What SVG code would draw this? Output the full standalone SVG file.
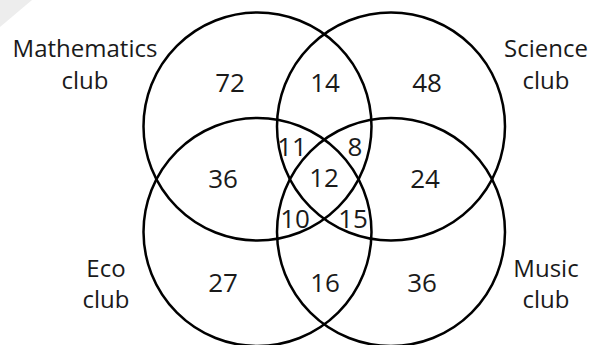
<svg xmlns="http://www.w3.org/2000/svg" width="592" height="345" viewBox="0 0 592 345">
  <style>
    .set { fill: none; stroke: #000; stroke-width: 2.5; }
    text { font-family: "Open Sans", "Liberation Sans", sans-serif; font-size: 24px; fill: #1a1a1a; text-anchor: middle; }
    .num { font-size: 26px; }
  </style>
  <rect width="592" height="345" fill="#fff"/>
  <polygon points="0,0 32,0 0,27" fill="#ededed"/>
  <g id="mathematics">
    <circle class="set" cx="257.5" cy="126.5" r="114"/>
    <text x="85" y="57">Mathematics</text>
    <text x="85" y="89">club</text>
  </g>
  <g id="science">
    <circle class="set" cx="391" cy="126.5" r="114"/>
    <text x="546" y="57">Science</text>
    <text x="546" y="89">club</text>
  </g>
  <g id="eco">
    <circle class="set" cx="257.5" cy="232" r="114"/>
    <text x="106" y="277">Eco</text>
    <text x="106" y="308">club</text>
  </g>
  <g id="music">
    <circle class="set" cx="391" cy="232" r="114"/>
    <text x="546" y="277">Music</text>
    <text x="546" y="308">club</text>
  </g>
  <g id="counts" class="num">
    <text class="num" x="230" y="92">72</text>
    <text class="num" x="325" y="92">14</text>
    <text class="num" x="427" y="92">48</text>
    <text class="num" x="292" y="156">11</text>
    <text class="num" x="355" y="156">8</text>
    <text class="num" x="223" y="188">36</text>
    <text class="num" x="324" y="187">12</text>
    <text class="num" x="425" y="188">24</text>
    <text class="num" x="295" y="228">10</text>
    <text class="num" x="353" y="228">15</text>
    <text class="num" x="223" y="292">27</text>
    <text class="num" x="325" y="292">16</text>
    <text class="num" x="422" y="292">36</text>
  </g>
</svg>
